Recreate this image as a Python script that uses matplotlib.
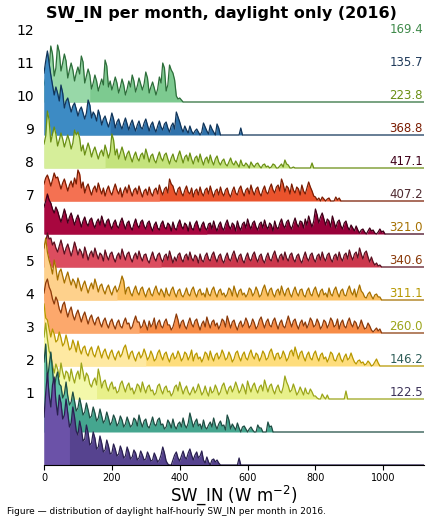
import numpy as np
import matplotlib
matplotlib.use("Agg")
import matplotlib.pyplot as plt

# histogram counts per 5 W m-2 bin (daylight half-hours), month 1..12
jan = [48, 72, 92, 70, 58, 80, 88, 64, 50, 70, 62, 46, 50, 66, 52, 38, 42, 58, 48, 34,
       30, 44, 36, 24, 26, 40, 32, 20, 22, 33, 27, 16, 18, 29, 22, 13, 15, 25, 19, 11,
       12, 21, 16, 9, 11, 19, 14, 7, 9, 18, 13, 6, 8, 15, 12, 5, 7, 14, 10, 5,
       6, 13, 9, 4, 5, 12, 8, 3, 5, 10, 18, 12, 4, 1, 0, 0, 5, 10, 13, 7,
       4, 9, 14, 8, 6, 12, 16, 10, 5, 10, 13, 7, 9, 14, 5, 2, 8, 3, 0, 5,
       6, 3, 5, 2, 0, 0, 0, 0, 0, 0, 0, 0, 0, 0, 0, 7]
feb = [70, 88, 52, 66, 80, 62, 42, 54, 60, 48, 46, 34, 38, 50, 36, 27, 30, 40, 31, 21,
       24, 34, 26, 17, 20, 29, 22, 14, 16, 25, 19, 11, 14, 23, 16, 9, 12, 20, 14, 7,
       10, 17, 13, 6, 9, 16, 12, 5, 8, 15, 10, 5, 7, 14, 12, 6, 17, 10, 5, 11,
       13, 6, 4, 9, 15, 8, 6, 12, 14, 7, 8, 3, 5, 12, 9, 4, 13, 6, 3, 8,
       10, 5, 14, 7, 4, 9, 19, 12, 5, 10, 13, 6, 8, 3, 12, 5, 3, 7, 10, 5,
       14, 7, 3, 8, 11, 6, 7, 2, 17, 12, 3, 8, 5, 2, 9, 4, 0, 5, 6, 3,
       0, 3, 5, 2, 0, 0, 7, 4, 4, 0, 0, 0, 10, 5, 6, 0]
mar = [62, 76, 60, 48, 44, 34, 26, 35, 30, 22, 36, 27, 20, 28, 26, 18, 30, 22, 16, 24,
       28, 20, 36, 27, 18, 26, 23, 15, 12, 18, 21, 14, 30, 22, 11, 17, 19, 12, 8, 14,
       17, 10, 12, 6, 8, 15, 18, 12, 7, 13, 16, 9, 11, 5, 9, 15, 13, 7, 17, 11,
       6, 12, 14, 8, 9, 4, 6, 13, 15, 9, 5, 11, 13, 7, 8, 3, 6, 12, 14, 8,
       17, 11, 5, 10, 13, 7, 4, 8, 12, 6, 9, 15, 10, 4, 7, 13, 7, 3, 12, 6,
       8, 14, 10, 4, 7, 13, 16, 10, 5, 11, 13, 7, 11, 17, 12, 6, 9, 15, 11, 5,
       18, 12, 7, 13, 16, 10, 6, 12, 14, 8, 19, 13, 7, 13, 15, 9, 5, 11, 14, 8,
       6, 12, 23, 17, 13, 7, 9, 15, 10, 4, 7, 12, 8, 4, 11, 6, 5, 10, 7, 3,
       3, 1, 0, 0, 5, 2, 0, 4, 0, 0, 0, 0, 0, 0, 0, 0, 0, 0, 8, 0]
apr = [62, 48, 46, 37, 29, 37, 32, 24, 26, 34, 28, 20, 23, 31, 24, 16, 18, 26, 21, 14,
       25, 17, 12, 18, 20, 13, 10, 16, 19, 12, 9, 15, 20, 14, 8, 14, 17, 11, 7, 13,
       16, 10, 6, 12, 15, 9, 12, 18, 21, 14, 7, 13, 15, 9, 5, 11, 14, 8, 11, 17,
       12, 6, 9, 15, 11, 5, 7, 13, 16, 10, 6, 12, 14, 8, 4, 10, 13, 7, 9, 15,
       11, 5, 8, 14, 12, 6, 10, 16, 5, 11, 13, 7, 9, 4, 8, 14, 12, 6, 15, 9,
       5, 11, 13, 7, 10, 16, 12, 6, 8, 14, 10, 4, 7, 13, 15, 9, 5, 11, 14, 8,
       6, 12, 16, 10, 7, 13, 11, 5, 9, 15, 12, 6, 8, 14, 17, 11, 6, 12, 13, 7,
       9, 15, 11, 5, 8, 14, 16, 10, 19, 13, 7, 13, 15, 9, 5, 11, 14, 8, 6, 12,
       15, 9, 5, 11, 13, 7, 9, 4, 8, 14, 12, 6, 5, 10, 13, 7, 4, 9, 12, 6,
       8, 13, 8, 4, 2, 5, 6, 3, 4, 1, 2, 5, 3, 0, 1, 4, 7, 3]
may = [40, 50, 54, 46, 42, 34, 29, 36, 32, 24, 20, 28, 31, 23, 16, 22, 26, 18, 13, 19,
       23, 17, 11, 17, 21, 15, 9, 15, 18, 12, 8, 14, 16, 10, 6, 12, 15, 9, 5, 11,
       14, 8, 4, 10, 13, 7, 5, 11, 15, 9, 10, 4, 6, 12, 17, 11, 11, 5, 7, 13,
       8, 3, 12, 6, 9, 15, 4, 10, 13, 7, 5, 11, 14, 8, 8, 3, 6, 12, 19, 13,
       5, 11, 13, 7, 4, 10, 15, 9, 6, 12, 14, 8, 3, 9, 12, 6, 16, 10, 5, 11,
       13, 7, 10, 4, 8, 14, 12, 6, 17, 11, 5, 11, 13, 7, 3, 9, 12, 6, 9, 15,
       11, 5, 8, 14, 10, 4, 7, 13, 16, 10, 5, 11, 14, 8, 6, 12, 15, 9, 4, 10,
       13, 7, 5, 11, 17, 11, 6, 12, 14, 8, 4, 10, 13, 7, 11, 5, 9, 15, 12, 6,
       8, 14, 10, 4, 7, 13, 11, 5, 9, 15, 12, 6, 8, 14, 4, 10, 13, 7, 5, 11,
       15, 9, 6, 12, 10, 4, 7, 13, 8, 4, 5, 10, 7, 3, 1, 3, 5, 2, 4, 0]
jun = [52, 62, 48, 40, 34, 26, 40, 32, 20, 28, 31, 24, 17, 23, 28, 21, 15, 21, 18, 12,
       22, 16, 9, 15, 19, 13, 7, 13, 17, 11, 21, 15, 8, 14, 16, 10, 6, 12, 15, 9,
       5, 11, 14, 8, 11, 17, 24, 19, 6, 12, 13, 7, 4, 10, 14, 8, 5, 11, 13, 7,
       3, 9, 12, 6, 4, 10, 14, 8, 5, 11, 8, 3, 12, 6, 4, 10, 13, 7, 3, 9,
       11, 5, 3, 7, 12, 6, 4, 10, 13, 7, 3, 9, 11, 5, 7, 3, 12, 6, 4, 10,
       13, 7, 3, 9, 11, 5, 7, 3, 6, 12, 10, 4, 14, 8, 3, 9, 11, 5, 7, 3,
       6, 12, 10, 4, 7, 13, 9, 3, 5, 11, 15, 9, 4, 10, 12, 6, 3, 9, 11, 5,
       14, 8, 4, 10, 12, 6, 3, 9, 13, 7, 4, 10, 11, 5, 3, 9, 12, 6, 4, 10,
       13, 7, 3, 9, 11, 5, 7, 3, 12, 6, 4, 10, 13, 7, 3, 9, 11, 5, 4, 10,
       14, 8, 5, 11, 3, 9, 15, 9, 7, 3, 2, 6, 8, 4, 1, 5, 6, 3, 3, 0]
jul = [18, 24, 34, 28, 29, 22, 25, 19, 15, 21, 27, 20, 13, 19, 23, 17, 11, 17, 25, 19,
       12, 18, 15, 9, 20, 14, 7, 13, 16, 10, 19, 13, 8, 14, 12, 6, 17, 11, 7, 13,
       15, 9, 5, 11, 14, 8, 18, 12, 7, 13, 15, 9, 5, 11, 14, 8, 16, 10, 6, 12,
       13, 7, 4, 10, 15, 9, 6, 12, 14, 8, 5, 11, 13, 7, 16, 10, 4, 10, 6, 12,
       14, 8, 5, 11, 13, 7, 15, 9, 6, 12, 10, 4, 13, 7, 5, 11, 14, 8, 6, 12,
       15, 9, 5, 11, 13, 7, 4, 10, 14, 8, 6, 12, 16, 10, 5, 11, 13, 7, 4, 10,
       14, 8, 6, 12, 15, 9, 5, 11, 13, 7, 4, 10, 14, 8, 6, 12, 16, 10, 5, 11,
       13, 7, 15, 9, 6, 12, 14, 8, 5, 11, 13, 7, 4, 10, 15, 9, 6, 12, 14, 8,
       5, 11, 13, 7, 15, 9, 6, 12, 14, 8, 5, 11, 13, 7, 15, 9, 6, 12, 14, 8,
       17, 11, 7, 13, 15, 9, 19, 13, 8, 14, 16, 10, 5, 10, 5, 2, 4, 1, 2, 0]
aug = [27, 33, 40, 34, 31, 25, 21, 27, 23, 17, 12, 18, 25, 19, 11, 17, 21, 15, 9, 15,
       19, 13, 7, 13, 17, 11, 8, 14, 16, 10, 6, 12, 15, 9, 18, 12, 7, 13, 15, 9,
       5, 11, 14, 8, 6, 12, 16, 10, 5, 11, 13, 7, 4, 10, 15, 9, 6, 12, 14, 8,
       5, 11, 13, 7, 3, 9, 12, 6, 4, 10, 13, 7, 5, 11, 9, 3, 12, 6, 4, 10,
       14, 8, 5, 11, 9, 3, 12, 6, 4, 10, 13, 7, 3, 9, 12, 6, 4, 10, 11, 5,
       13, 7, 3, 9, 12, 6, 4, 10, 14, 8, 5, 11, 9, 3, 13, 7, 4, 10, 12, 6,
       15, 9, 5, 11, 13, 7, 4, 10, 12, 6, 14, 8, 5, 11, 9, 3, 13, 7, 5, 11,
       15, 9, 6, 12, 14, 8, 5, 11, 16, 10, 7, 13, 12, 6, 15, 9, 18, 12, 7, 13,
       25, 19, 11, 17, 21, 15, 9, 15, 13, 7, 18, 12, 6, 12, 14, 8, 5, 11, 13, 7,
       4, 9, 6, 3, 8, 4, 1, 4, 5, 2, 0, 3, 6, 3, 4, 1, 0, 2, 5, 2, 3, 0]
sep = [17, 23, 26, 21, 15, 21, 28, 23, 24, 18, 12, 18, 22, 16, 10, 16, 20, 14, 23, 17,
       31, 27, 13, 19, 8, 14, 17, 11, 6, 12, 15, 9, 18, 12, 7, 13, 5, 11, 15, 9,
       6, 12, 17, 11, 7, 13, 4, 10, 14, 8, 16, 10, 5, 11, 13, 7, 15, 9, 4, 10,
       12, 6, 14, 8, 5, 11, 13, 7, 16, 10, 6, 12, 14, 8, 22, 17, 15, 9, 6, 12,
       14, 8, 5, 11, 15, 9, 7, 13, 4, 10, 12, 6, 14, 8, 5, 11, 13, 7, 15, 9,
       4, 10, 12, 6, 14, 8, 5, 11, 13, 7, 4, 10, 14, 8, 6, 12, 15, 9, 5, 11,
       13, 7, 16, 10, 6, 12, 14, 8, 5, 11, 15, 9, 7, 13, 17, 11, 8, 14, 16, 10,
       22, 17, 9, 15, 13, 7, 17, 11, 8, 14, 12, 6, 16, 10, 7, 13, 19, 14, 10, 5,
       4, 1, 3, 0, 4, 2, 0, 2, 3, 0, 0, 0, 4, 1, 3, 0]
oct_ = [24, 32, 57, 48, 26, 34, 41, 34, 22, 28, 35, 29, 21, 27, 33, 27, 19, 25, 38, 33,
        36, 30, 17, 23, 13, 19, 25, 19, 11, 17, 21, 15, 9, 15, 18, 12, 23, 17, 10, 16,
        34, 28, 13, 19, 9, 15, 21, 15, 8, 14, 17, 11, 6, 12, 16, 10, 7, 13, 15, 9,
        19, 13, 6, 12, 14, 8, 5, 11, 16, 10, 7, 13, 15, 9, 4, 10, 14, 8, 6, 12,
        17, 11, 5, 11, 13, 7, 15, 9, 4, 10, 12, 6, 14, 8, 3, 9, 11, 5, 13, 7,
        3, 9, 12, 6, 3, 7, 9, 4, 2, 6, 10, 5, 3, 7, 4, 1, 8, 3, 2, 5,
        3, 0, 6, 3, 1, 4, 5, 2, 0, 3, 4, 1, 2, 0, 1, 4, 3, 0, 0, 2,
        4, 1, 8, 4, 3, 0, 0, 1, 0, 0, 0, 0, 0, 0, 0, 0, 0, 0, 5, 0]
nov = [62, 74, 84, 72, 60, 50, 40, 48, 42, 34, 50, 42, 27, 34, 37, 30, 23, 29, 32, 26,
       19, 25, 28, 22, 16, 22, 35, 30, 17, 23, 20, 14, 25, 19, 10, 16, 19, 13, 8, 14,
       22, 16, 7, 13, 16, 10, 6, 12, 17, 11, 5, 11, 15, 9, 4, 10, 14, 8, 6, 12,
       16, 10, 4, 10, 13, 7, 3, 9, 14, 8, 5, 11, 13, 7, 3, 9, 12, 6, 23, 18,
       13, 7, 3, 9, 5, 2, 9, 4, 1, 4, 6, 3, 0, 3, 12, 8, 4, 1, 10, 6,
       3, 0, 11, 7, 0, 0, 0, 0, 0, 0, 0, 0, 0, 0, 0, 0, 7, 0]
dec = [17, 24, 42, 34, 56, 48, 26, 34, 57, 50, 31, 39, 48, 41, 24, 32, 39, 32, 21, 29,
       35, 28, 46, 40, 19, 26, 33, 27, 13, 19, 27, 21, 11, 17, 23, 17, 42, 36, 15, 21,
       12, 18, 25, 19, 9, 15, 23, 17, 7, 13, 21, 15, 27, 21, 10, 16, 24, 18, 12, 18,
       30, 24, 9, 15, 20, 14, 7, 13, 25, 19, 39, 34, 11, 17, 37, 32, 29, 22, 6, 3,
       4, 2]

counts = [jan, feb, mar, apr, may, jun, jul, aug, sep, oct_, nov, dec]
months = [str(m) for m in range(1, 13)]
means = [122.5, 146.2, 260.0, 311.1, 340.6, 321.0, 407.2, 417.1, 368.8, 223.8, 135.7, 169.4]
medians = [77, 82, 156, 300, 280, 218, 348, 480, 342, 183, 195, 136]

fill_light = ["#6b52a8", "#5cc0a6", "#f3f8aa", "#fee9a2", "#fca86c", "#fed18c",
              "#dc4d5f", "#a8073f", "#f47152", "#d6ee9a", "#3d8bc4", "#98d8a8"]
fill_dark = ["#56438f", "#45a68f", "#e8f08a", "#fedd7c", "#f78c47", "#fcc060",
             "#cb374c", "#980039", "#ea532c", "#c4e37c", "#2f72ab", "#7dca90"]
line_cols = ["#2a2050", "#1f4d43", "#9ba51a", "#b79800", "#8a3a0a", "#a57000",
             "#5a1020", "#3f0018", "#7a1c02", "#6a8f14", "#11355a", "#2d6e3a"]
text_cols = ["#3b3157", "#2f5e58", "#9ba51a", "#b79800", "#8a3a0a", "#a57000",
             "#4e2a30", "#3f0018", "#7a1c02", "#6a8f14", "#1f3a5a", "#3f8a4a"]

binw = 5
nb = 225
x = np.arange(nb) * binw
scale = 1 / 33.0

fig = plt.figure(figsize=(4.31, 5.23), dpi=100)
ax = fig.add_axes([44 / 431, 58 / 523, 380 / 431, 442.2 / 523])

for i in range(12):
    h = np.zeros(nb)
    h[:len(counts[i])] = counts[i]
    y = i + h * scale
    z = 20 - i
    ax.fill_between(x, i, y, color=fill_dark[i], lw=0, zorder=z)
    ax.fill_between(x, i, y, where=x <= medians[i], color=fill_light[i], lw=0, zorder=z)
    ax.plot(x, y, color=line_cols[i], lw=0.9, zorder=z + 0.5)
    ax.text(1117, i + 2.2, f"{means[i]:.1f}", ha="right", va="center",
            fontsize=8.5, color=text_cols[i], zorder=40)

ax.set_xlim(0, 1120)
ax.set_ylim(0, 13.4)
ax.set_yticks(np.arange(12) + 2.2)
ax.set_yticklabels(months, fontsize=10)
ax.tick_params(axis="y", length=0, pad=7)
ax.set_xticks([0, 200, 400, 600, 800, 1000])
ax.tick_params(axis="x", labelsize=7, length=3.5, pad=2)
for s in ["left", "right", "top"]:
    ax.spines[s].set_visible(False)
ax.spines["bottom"].set_zorder(30)
ax.set_xlabel("SW_IN (W m$^{-2}$)", fontsize=12, labelpad=0.5)

fig.text(221.5 / 431, 1 - 14 / 523, "SW_IN per month, daylight only (2016)",
         ha="center", va="center", fontsize=11.5, fontweight="bold")
fig.text(7 / 431, 1 - 511.5 / 523,
         "Figure \u2014 distribution of daylight half-hourly SW_IN per month in 2016.",
         ha="left", va="center", fontsize=6.5)

fig.savefig("out.png", dpi=100)
